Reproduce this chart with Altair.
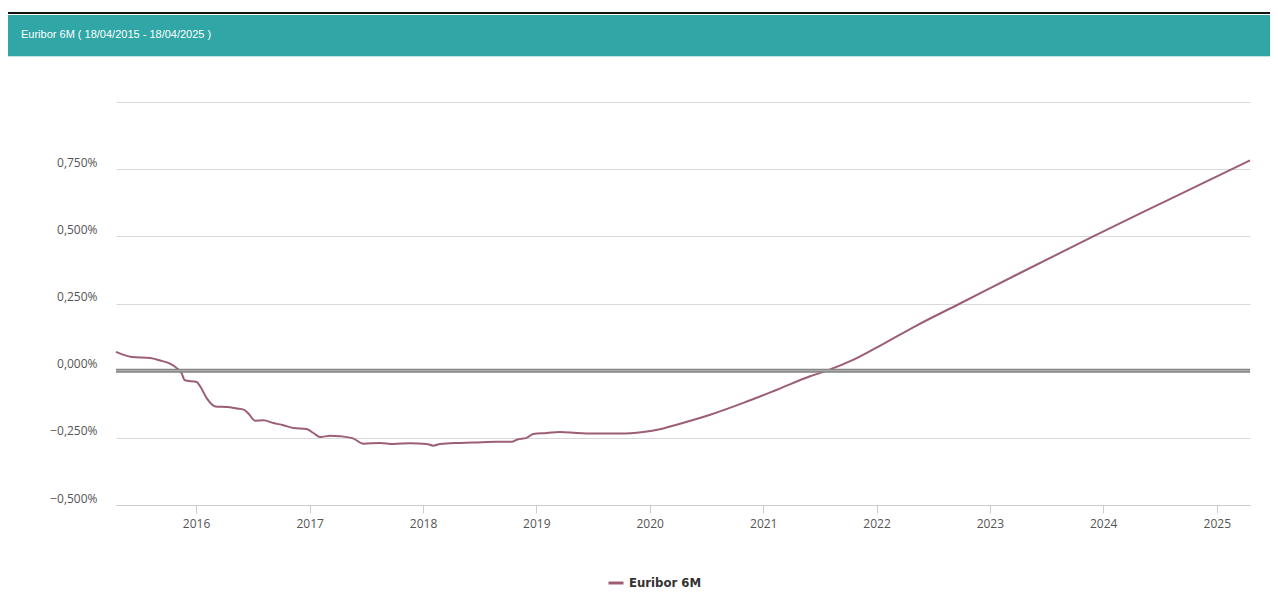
import altair as alt
import pandas as pd

# ---- data ----
dates = [
    "2015-04-18", "2015-06-08", "2015-08-06", "2015-09-07", "2015-10-09", "2015-10-30",
    "2015-11-15", "2015-11-26", "2016-01-03", "2016-01-14", "2016-02-04", "2016-03-03",
    "2016-04-10", "2016-05-12", "2016-06-02", "2016-06-18", "2016-07-09", "2016-08-05",
    "2016-09-06", "2016-10-08", "2016-11-09", "2016-12-22", "2017-01-13", "2017-02-04",
    "2017-03-08", "2017-04-09", "2017-05-22", "2017-06-23", "2017-08-16", "2017-09-28",
    "2017-11-21", "2018-01-13", "2018-02-03", "2018-02-25", "2018-04-30", "2018-06-23",
    "2018-08-26", "2018-10-14", "2018-10-30", "2018-12-01", "2018-12-22", "2019-02-04",
    "2019-03-18", "2019-05-11", "2019-07-03", "2019-09-27", "2019-12-11", "2020-02-03",
    "2020-03-28", "2020-07-14", "2020-10-29", "2021-02-14", "2021-06-01", "2021-07-25",
    "2021-10-19", "2022-01-23", "2022-05-10", "2022-09-27", "2023-03-28", "2023-11-30",
    "2024-07-24", "2025-04-18",
]
values = [
    0.070, 0.051, 0.047, 0.038, 0.026, 0.010,
    -0.009, -0.036, -0.042, -0.058, -0.102, -0.133,
    -0.135, -0.141, -0.145, -0.160, -0.186, -0.185,
    -0.195, -0.203, -0.213, -0.217, -0.232, -0.247,
    -0.242, -0.244, -0.253, -0.272, -0.269, -0.273,
    -0.270, -0.273, -0.279, -0.273, -0.269, -0.267,
    -0.265, -0.265, -0.257, -0.250, -0.236, -0.232,
    -0.228, -0.232, -0.234, -0.234, -0.228, -0.218,
    -0.201, -0.164, -0.120, -0.071, -0.021, 0.000,
    0.041, 0.100, 0.168, 0.250, 0.357, 0.500,
    0.633, 0.783,
]
series_name = "Euribor 6M"
title_text = "Euribor 6M ( 18/04/2015 - 18/04/2025 )"
y_ticks = [-0.5, -0.25, 0.0, 0.25, 0.5, 0.75, 1.0]
x_ticks = [f"{y}-01-01" for y in range(2016, 2026)]
x_domain = ["2015-04-18", "2025-04-18"]

LINE_COLOR = "#9c5f72"
TEAL = "#30a6a6"

df = pd.DataFrame({"date": dates, "value": values, "series": [series_name] * len(dates)})
one = pd.DataFrame({"a": [0]})
zero_df = pd.DataFrame({"value": [0.0]})

W, H = 1134, 403

x_enc = alt.X(
    "date:T",
    scale=alt.Scale(domain=x_domain),
    axis=alt.Axis(
        values=x_ticks, format="%Y", title=None, grid=False,
        domainColor="#cccccc", domainWidth=1,
        tickColor="#cccccc", tickSize=8, tickWidth=1,
        labelFont="Open Sans", labelFontSize=12, labelColor="#555555",
        labelPadding=5,
    ),
)
y_enc = alt.Y(
    "value:Q",
    scale=alt.Scale(domain=[-0.5, 1.0], nice=False, zero=False),
    axis=alt.Axis(
        values=y_ticks, title=None, grid=True, gridColor="#d9d9d9", gridWidth=1,
        domain=False, ticks=False,
        labelExpr="datum.value == 1 ? '' : replace(format(datum.value, '.3f'), '.', ',') + '%'",
        labelFont="Open Sans", labelFontSize=12, labelColor="#555555",
        labelPadding=19, labelOffset=-7,
    ),
)

line = alt.Chart(df).mark_line(strokeWidth=2, interpolate="monotone").encode(
    x=x_enc,
    y=y_enc,
    color=alt.Color(
        "series:N",
        scale=alt.Scale(range=[LINE_COLOR]),
        legend=alt.Legend(
            orient="none", legendX=491, legendY=472, title=None,
            symbolType="stroke", symbolStrokeWidth=3, symbolSize=225,
            labelFont="'DejaVu Sans Condensed', 'Liberation Sans Narrow', Roboto, sans-serif",
            labelFontWeight="bold", labelFontSize=13, labelColor="#333333",
        ),
    ),
)

zero_outer = alt.Chart(zero_df).mark_rule(color="#858585", strokeWidth=4).encode(
    y="value:Q", x=alt.value(0), x2=alt.value(W)
)
zero_inner = alt.Chart(zero_df).mark_rule(color="#b5b5b5", strokeWidth=1).encode(
    y="value:Q", x=alt.value(0), x2=alt.value(W)
)

header = alt.Chart(one).mark_rect(color=TEAL).encode(
    x=alt.value(-110), x2=alt.value(W + 30), y=alt.value(-87), y2=alt.value(-46)
)
header_line = alt.Chart(one).mark_rule(color="#bfe6e6", strokeWidth=1).encode(
    x=alt.value(-110), x2=alt.value(W + 30), y=alt.value(-45.5)
)
top_border = alt.Chart(one).mark_rule(color="#111111", strokeWidth=2).encode(
    x=alt.value(-110), x2=alt.value(W + 30), y=alt.value(-89)
)
header_text = alt.Chart(one).mark_text(
    text=title_text, color="white", font="Liberation Sans", fontSize=11,
    align="left", baseline="middle",
).encode(x=alt.value(-95), y=alt.value(-67))

chart = alt.layer(
    header, header_line, top_border, header_text, line, zero_outer, zero_inner
).properties(
    width=W, height=H,
    background="white",
    autosize=alt.AutoSizeParams(type="none"),
    padding={"left": 108, "top": 94, "right": 20, "bottom": 98},
).configure_view(stroke=None, strokeWidth=0)

chart.save("out.html", embed_options={"renderer": "svg", "actions": False})
